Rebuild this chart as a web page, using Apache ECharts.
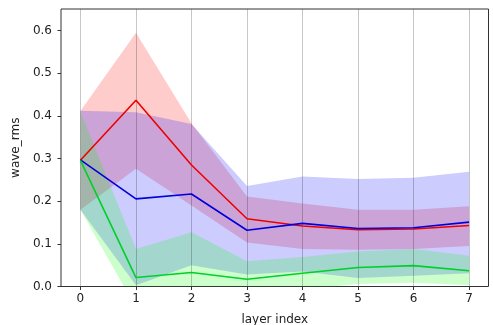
<!DOCTYPE html>
<html>
<head>
<meta charset="utf-8">
<script src="https://cdn.jsdelivr.net/npm/echarts@6/dist/echarts.min.js"></script>
<style>html,body{margin:0;padding:0;background:#fff}#c{width:493px;height:325px}</style>
</head>
<body>
<div id="c"></div>
<script>
const layers = [0, 1, 2, 3, 4, 5, 6, 7];
const yTicks = [0, 0.1, 0.2, 0.3, 0.4, 0.5, 0.6];

const redMean  = [0.296, 0.437, 0.285, 0.159, 0.142, 0.133, 0.135, 0.143];
const redLow   = [0.180, 0.276, 0.190, 0.103, 0.088, 0.086, 0.088, 0.095];
const redHigh  = [0.412, 0.595, 0.383, 0.211, 0.195, 0.180, 0.180, 0.188];

const blueMean = [0.297, 0.2055, 0.217, 0.132, 0.148, 0.136, 0.138, 0.151];
const blueLow  = [0.180, 0.003, 0.050, 0.028, 0.035, 0.020, 0.025, 0.031];
const blueHigh = [0.4125, 0.409, 0.381, 0.236, 0.258, 0.252, 0.255, 0.269];

const greenMean = [0.296, 0.021, 0.033, 0.017, 0.031, 0.0445, 0.049, 0.037];
const greenLow  = [0.180, -0.050, -0.060, -0.025, -0.007, 0.006, 0.009, 0.003];
const greenHigh = [0.410, 0.088, 0.127, 0.059, 0.069, 0.082, 0.088, 0.072];

const FONT = 'DejaVu Sans';

function pairs(ys) { return layers.map((x, i) => [x, ys[i]]); }

function band(name, lo, hi, fill) {
  return {
    type: 'custom', name: name + '_band', silent: true, clip: true, z: 2,
    data: layers.map((x, i) => [x, lo[i], hi[i]]),
    encode: { x: 0, y: [1, 2] },
    renderItem: function (params, api) {
      if (params.dataIndex !== 0) return null;
      const pts = [];
      for (let i = 0; i < layers.length; i++) pts.push(api.coord([layers[i], hi[i]]));
      for (let i = layers.length - 1; i >= 0; i--) pts.push(api.coord([layers[i], lo[i]]));
      const cs = params.coordSys;
      return {
        type: 'polygon',
        shape: { points: pts },
        style: { fill: fill, stroke: null },
        clipPath: { type: 'rect', shape: { x: cs.x, y: cs.y, width: cs.width, height: cs.height } }
      };
    }
  };
}

function meanLine(name, ys, color) {
  return {
    type: 'line', name: name, data: pairs(ys), symbol: 'none',
    lineStyle: { color: color, width: 1.6 }, z: 4
  };
}

const chart = echarts.init(document.getElementById('c'), null, { renderer: 'canvas' });
chart.setOption({
  animation: false,
  backgroundColor: '#fff',
  grid: {
    left: 61, right: 4.5, top: 9, bottom: 38.5,
    outerBoundsMode: 'none', containLabel: false,
    show: true, borderColor: '#333', borderWidth: 1, backgroundColor: 'transparent'
  },
  xAxis: {
    type: 'value', min: -0.35, max: 7.35, z: 3,
    name: 'layer index', nameLocation: 'middle', nameGap: 27,
    nameTextStyle: { fontFamily: FONT, fontSize: 12, color: '#222' },
    axisLine: { show: false, onZero: false },
    axisTick: { show: true, inside: false, length: 3.5, customValues: layers, lineStyle: { color: '#333', width: 1 } },
    axisLabel: { customValues: layers, margin: 6, fontFamily: FONT, fontSize: 12, color: '#222',
                 formatter: v => String(v) },
    splitLine: { show: true, lineStyle: { color: 'rgba(0,0,0,0.22)', width: 1 } }
  },
  yAxis: {
    type: 'value', min: 0, max: 0.651, interval: 0.1,
    name: 'wave_rms', nameLocation: 'middle', nameGap: 29, nameRotate: 90,
    nameTextStyle: { fontFamily: FONT, fontSize: 12, color: '#222' },
    axisLine: { show: false, onZero: false },
    axisTick: { show: true, length: 3.5, customValues: yTicks, lineStyle: { color: '#333', width: 1 } },
    axisLabel: { customValues: yTicks, margin: 9, fontFamily: FONT, fontSize: 12, color: '#222',
                 formatter: v => v.toFixed(1) },
    splitLine: { show: false }
  },
  series: [
    band('red', redLow, redHigh, 'rgba(255,0,0,0.2)'),
    band('blue', blueLow, blueHigh, 'rgba(0,0,255,0.2)'),
    band('green', greenLow, greenHigh, 'rgba(0,255,0,0.2)'),
    meanLine('red', redMean, '#ee0000'),
    meanLine('blue', blueMean, '#0000dd'),
    meanLine('green', greenMean, '#00d02a')
  ]
});
</script>
</body>
</html>
